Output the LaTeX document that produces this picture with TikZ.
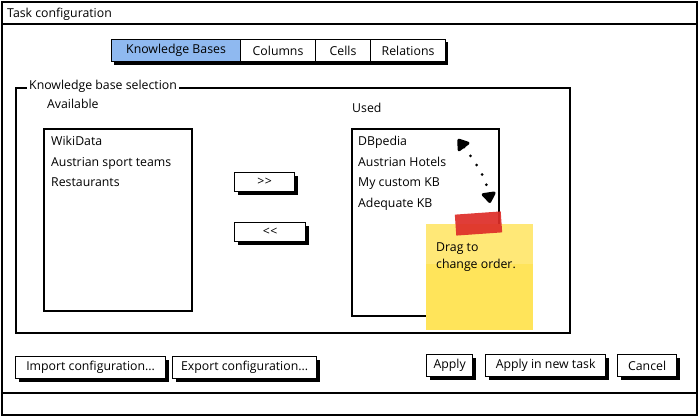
\documentclass[tikz,border=0pt]{standalone}
\usepackage{fontspec}
\setmainfont{Open Sans}
\usetikzlibrary{shadows,arrows.meta}
\definecolor{tabblue}{RGB}{143,185,240}
\definecolor{noteyellow}{RGB}{255,228,90}
\definecolor{tapered}{RGB}{222,45,40}
\tikzset{
  frame/.style={draw, line width=1.6pt},
  btn/.style={draw, fill=white, line width=1.2pt, inner sep=0pt, anchor=north west,
    drop shadow={shadow xshift=3pt, shadow yshift=-3pt, fill=black, opacity=1}},
  tabbox/.style={draw, fill=white, line width=1.1pt, inner sep=0pt, anchor=north west, minimum height=22pt},
  listbox/.style={draw, fill=white, line width=1.6pt, anchor=north west, inner sep=0pt},
  txt/.style={anchor=base west, inner sep=0pt},
}
\begin{document}
\begin{tikzpicture}[x=1pt,y=-1pt, font=\fontsize{12.3}{14}\selectfont]
\useasboundingbox (0,0) rectangle (698,416);
% window
\node[frame, anchor=north west, minimum width=695pt, minimum height=413pt, inner sep=0pt] (win) at (1.2,1.2) {};
\draw[line width=1.6pt] (1,24) -- (697,24);
\draw[line width=1.6pt] (1,393) -- (697,393);
\node[txt] (title) at (7,17) {Task configuration};
% tabs
\fill (114,42) rectangle (448,64.5);
\node[tabbox, fill=tabblue, minimum width=129pt] (tkb) at (111,39) {Knowledge Bases};
\node[tabbox, minimum width=75pt] (tcol) at (240,39) {Columns};
\node[tabbox, minimum width=55pt] (tcell) at (315,39) {Cells};
\node[tabbox, minimum width=75pt] (trel) at (370,39) {Relations};
% group box
\node[frame, anchor=north west, minimum width=554pt, minimum height=245pt, inner sep=0pt] (grp) at (15,87) {};
\node[txt, fill=white, inner xsep=2pt, inner ysep=1pt] (grplbl) at (27,89.5) {Knowledge base selection};
\node[txt] (avail) at (47,108.5) {Available};
\node[txt] (used) at (352,112.5) {Used};
% left list
\node[listbox, minimum width=148pt, minimum height=182pt] (left) at (43,128) {};
\node[txt] (l1) at (51,145.5) {WikiData};
\node[txt] (l2) at (51,166) {Austrian sport teams};
\node[txt] (l3) at (51,186.5) {Restaurants};
% move buttons
\node[btn, minimum width=60pt, minimum height=19pt] (add) at (234,172) {>\kern0.5pt>};
\node[btn, minimum width=71pt, minimum height=19pt] (rem) at (234,222) {<\kern0.5pt<};
% right list
\node[listbox, minimum width=147pt, minimum height=187pt] (right) at (351,128) {};
\node[txt] (r1) at (358,145.5) {DBpedia};
\node[txt] (r2) at (358,166) {Austrian Hotels};
\node[txt] (r3) at (358,186.5) {My custom KB};
\node[txt] (r4) at (358,207.5) {Adequate KB};
% dotted drag arrow
\coordinate (dtop) at (458,139);
\coordinate (dbot) at (490,203);
\draw[line width=3pt, line cap=round, dash pattern=on 0pt off 11pt,
  {Triangle[width=16pt,length=12pt,round]}-{Triangle[width=16pt,length=12pt,round]}]
  (dtop) .. controls (472,158) and (486,176) .. (dbot);
% sticky note
\node[anchor=north west, fill=noteyellow, minimum width=107pt, minimum height=106pt, inner sep=0pt] (note) at (425.5,223.5) {};
\fill[white, opacity=0.18] (note.north west) rectangle ([yshift=-40pt]note.north east);
\node[fill=tapered, opacity=0.92, minimum width=46pt, minimum height=21pt, inner sep=0pt, rotate=4] (tape) at (478.5,223.5) {};
\node[txt] (note1) at (436,251) {Drag to};
\node[txt] (note2) at (436,268) {change order.};
% bottom buttons
\node[btn, minimum width=150pt, minimum height=22pt] (imp) at (15,356) {Import configuration...};
\node[btn, minimum width=144pt, minimum height=22pt] (exp) at (172,356) {Export configuration...};
\node[btn, minimum width=46pt, minimum height=22pt] (apply) at (426,354) {Apply};
\node[btn, minimum width=120pt, minimum height=22pt] (applynew) at (485,354) {Apply in new task};
\node[btn, minimum width=59pt, minimum height=22pt] (cancel) at (617,354) {Cancel};
\end{tikzpicture}
\end{document}
